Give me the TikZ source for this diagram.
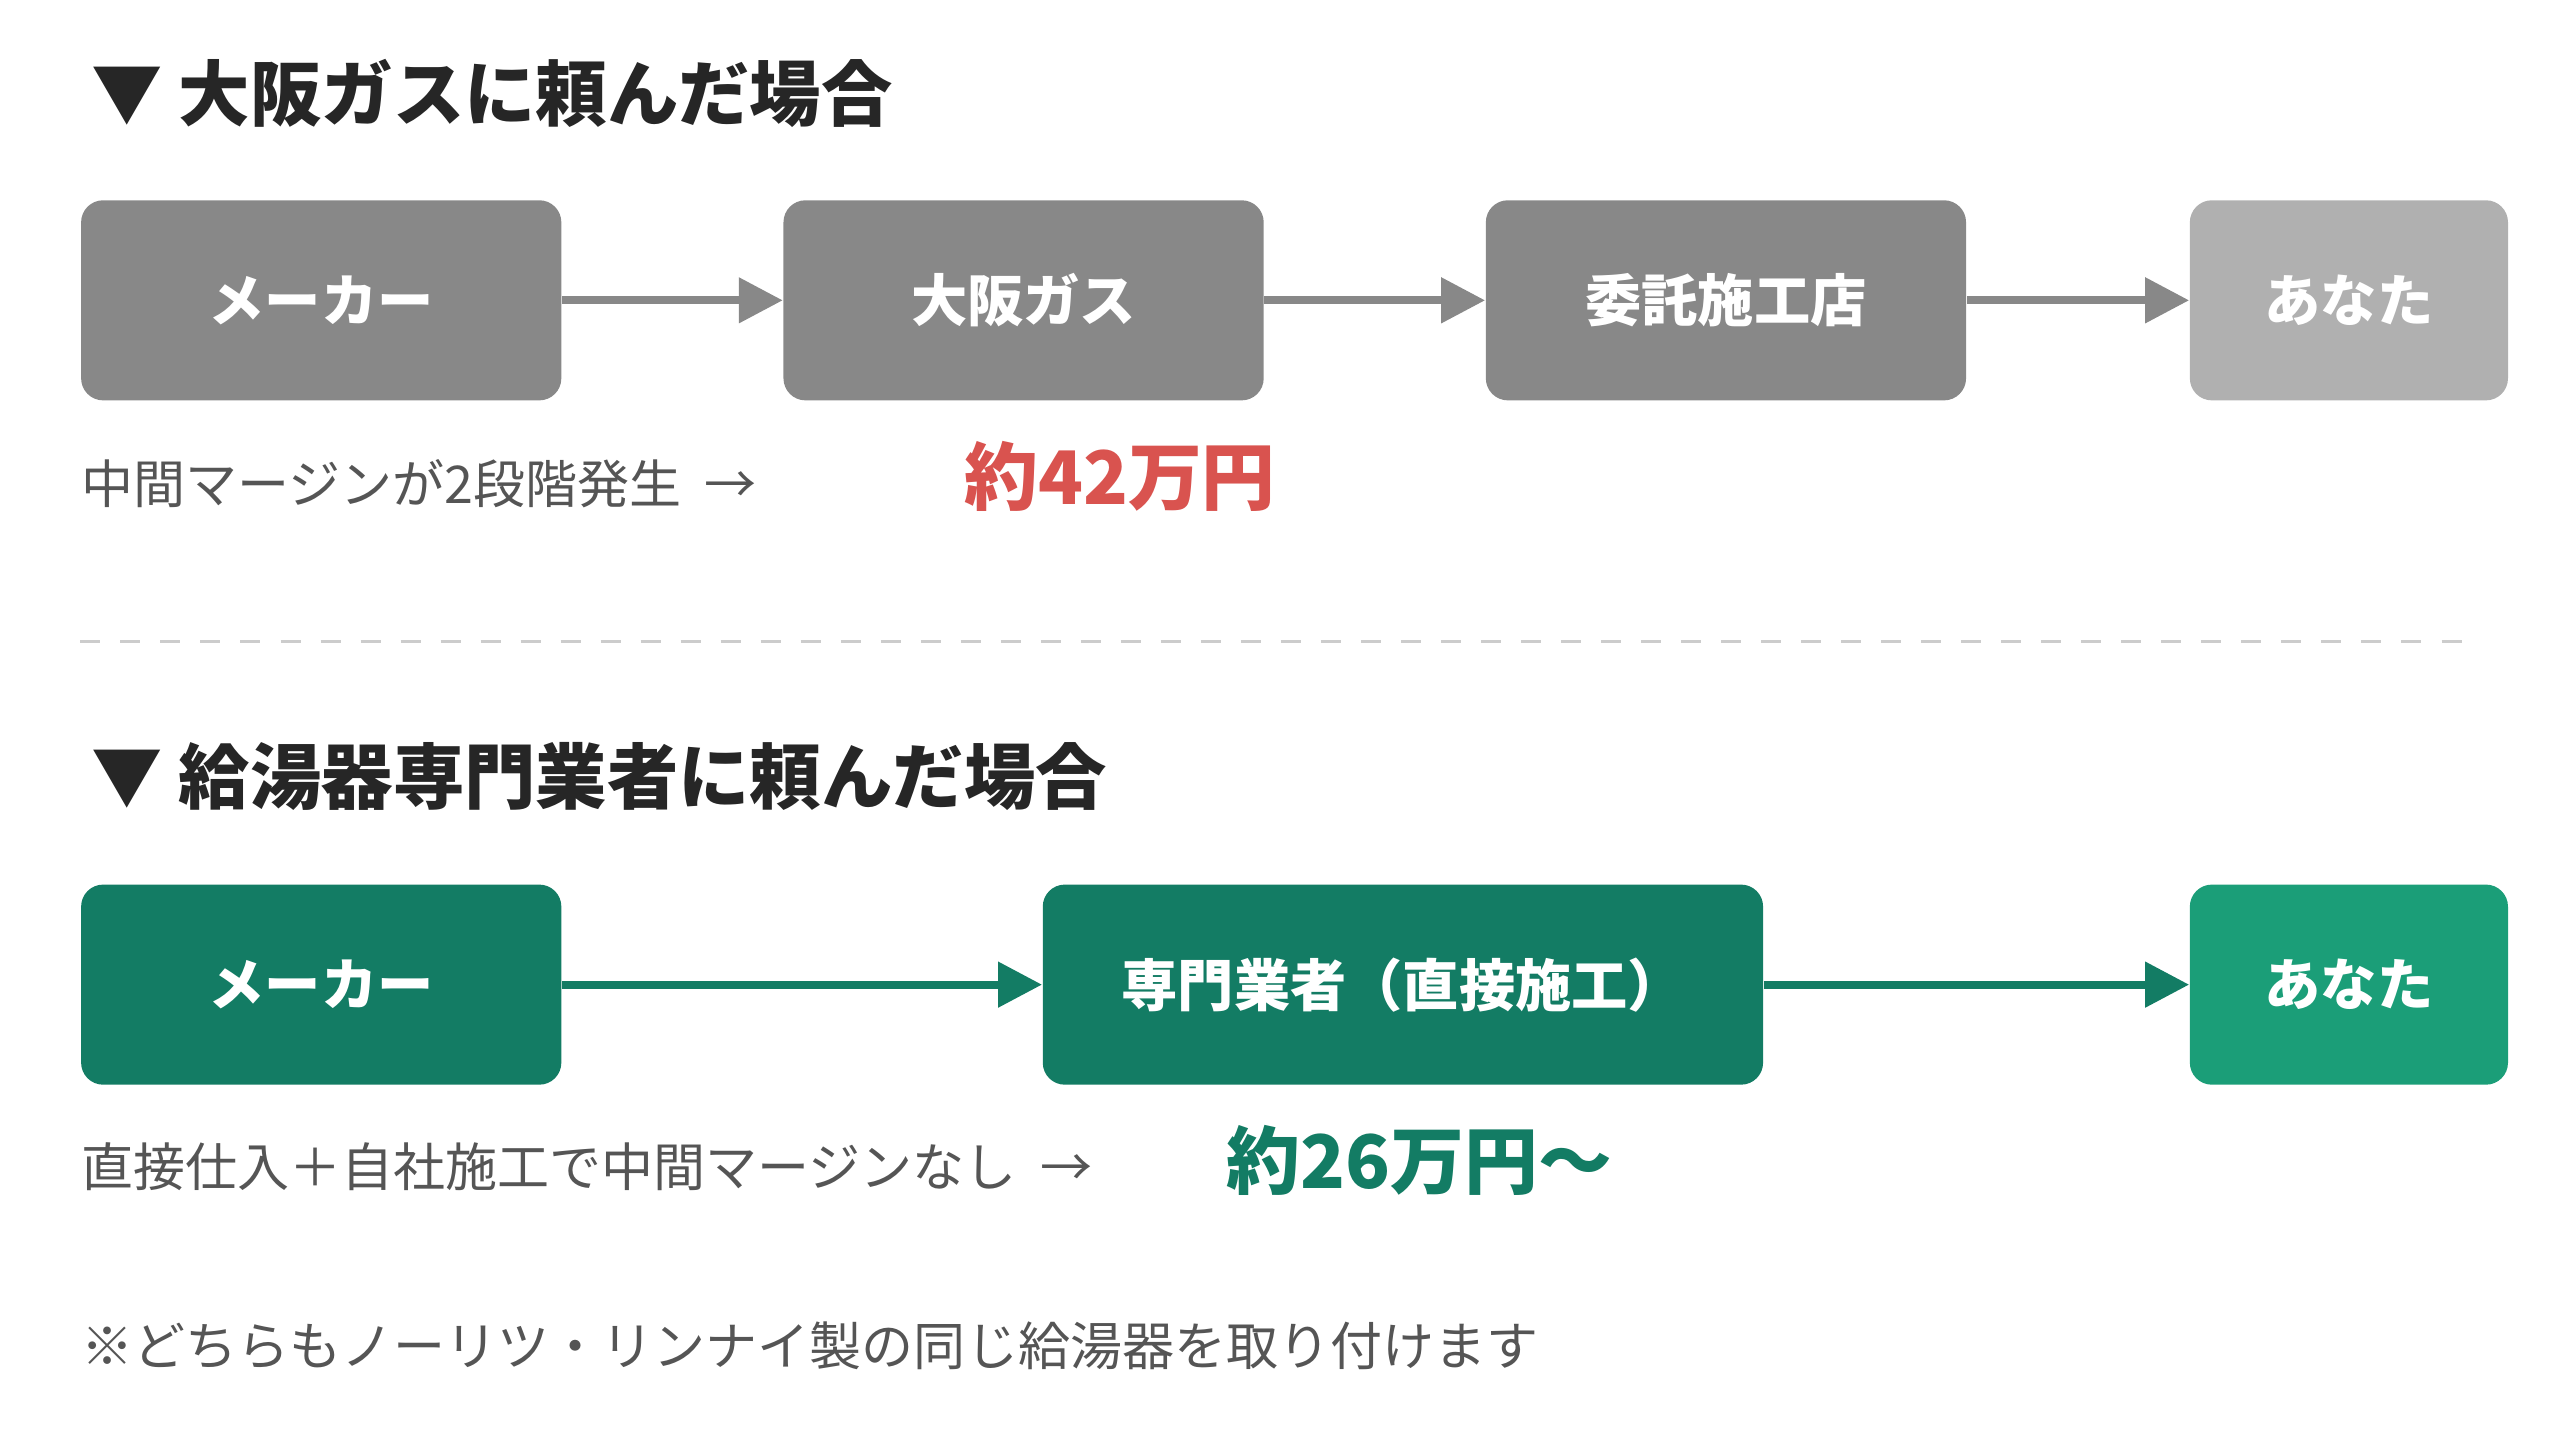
\documentclass[tikz,border=0pt]{standalone}
\usepackage{fontspec}
\setmainfont{Noto Sans CJK JP}
\usetikzlibrary{positioning,arrows.meta}
\definecolor{boxgray}{HTML}{888888}
\definecolor{boxlight}{HTML}{B0B0B0}
\definecolor{boxgreen}{HTML}{137C64}
\definecolor{boxmint}{HTML}{1B9E78}
\definecolor{pricered}{HTML}{D9534F}
\definecolor{textgray}{HTML}{555555}

\begin{document}
\begin{tikzpicture}[x=0.01641cm, y=-0.01641cm]
		\tikzstyle{stage}=[rectangle, rounded corners=2.2mm, minimum height=20mm, text=white, font=\bfseries\fontsize{16}{19}\selectfont, anchor=west]
		\tikzstyle{connect}=[-{Triangle[length=4.4mm,width=4.4mm]}, line width=0.8mm]
		\tikzstyle{head}=[anchor=west, text=black!85, font=\bfseries\fontsize{20.3}{24}\selectfont]
		\tikzstyle{note}=[anchor=west, text=textgray, font=\fontsize{14.8}{18}\selectfont]
		\tikzstyle{price}=[anchor=west, font=\bfseries\fontsize{21}{25}\selectfont]
		\useasboundingbox (0,0) rectangle (1560,878);
		% first route
		\node[head] (h1) at (48,57) {▼ 大阪ガスに頼んだ場合};
		\node[stage, fill=boxgray, minimum width=48mm] (maker1) at (49,183) {メーカー};
		\node[stage, fill=boxgray, minimum width=48mm] (osaka) at (477,183) {大阪ガス};
		\node[stage, fill=boxgray, minimum width=48mm] (shop) at (905,183) {委託施工店};
		\node[stage, fill=boxlight, minimum width=31.8mm] (you1) at (1334,183) {あなた};
		\path[boxgray] (maker1) edge [connect] (osaka)
		(osaka) edge [connect] (shop)
		(shop) edge [connect] (you1);
		\node[note] (n1) at (42,295) {中間マージンが2段階発生\ \ →};
		\node[price, text=pricered] (p1) at (580,290) {約42万円};
		\draw[black!20, line width=0.3mm, dash pattern=on 2mm off 2mm] (49,391) -- (1510,391);
		% second route
		\node[head] (h2) at (48,473) {▼ 給湯器専門業者に頼んだ場合};
		\node[stage, fill=boxgreen, minimum width=48mm] (maker2) at (49,600) {メーカー};
		\node[stage, fill=boxgreen, minimum width=72mm] (pro) at (635,600) {専門業者（直接施工）};
		\node[stage, fill=boxmint, minimum width=31.8mm] (you2) at (1334,600) {あなた};
		\path[boxgreen] (maker2) edge [connect] (pro)
		(pro) edge [connect] (you2);
		\node[note] (n2) at (42,711) {直接仕入＋自社施工で中間マージンなし\ \ →};
		\node[price, text=boxgreen] (p2) at (740,707) {約26万円～};
		\node[note] (foot) at (42,820) {※どちらもノーリツ・リンナイ製の同じ給湯器を取り付けます};
\end{tikzpicture}
\end{document}
